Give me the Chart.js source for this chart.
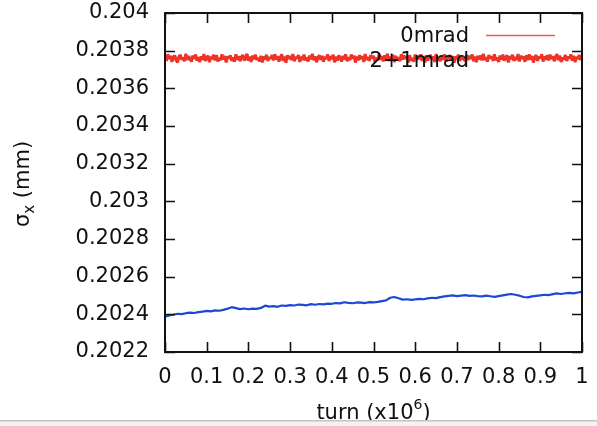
<!DOCTYPE html>
<html>
<head>
<meta charset="utf-8">
<script src="https://cdn.jsdelivr.net/npm/chart.js@4/dist/chart.umd.min.js"></script>
<style>
  html, body { margin: 0; padding: 0; background: #fff; }
  #sigma { display: block; }
</style>
</head>
<body>
<canvas id="sigma" width="597" height="426"></canvas>
<script>
'use strict';

// sigma_x over 1e6 turns, 0mrad (red) and 2+1mrad (blue)
const redSigma = [
    0.203769, 0.203746, 0.203781, 0.203757, 0.203772, 0.203741, 0.203766, 0.203775, 0.203749, 0.203738,
    0.203768, 0.203777, 0.203753, 0.203762, 0.203744, 0.203783, 0.203751, 0.203771, 0.203755, 0.203742,
    0.203774, 0.203758, 0.203779, 0.203747, 0.203765, 0.203740, 0.203770, 0.203752, 0.203782, 0.203745,
    0.203763, 0.203773, 0.203739, 0.203767, 0.203756, 0.203778, 0.203748, 0.203776, 0.203743, 0.203761,
    0.203750, 0.203780, 0.203754, 0.203772, 0.203737, 0.203769, 0.203759, 0.203775, 0.203746, 0.203764,
    0.203741, 0.203781, 0.203752, 0.203771, 0.203744, 0.203766, 0.203777, 0.203749, 0.203757, 0.203784,
    0.203747, 0.203768, 0.203740, 0.203774, 0.203755, 0.203779, 0.203751, 0.203762, 0.203743, 0.203773,
    0.203738, 0.203770, 0.203754, 0.203778, 0.203745, 0.203765, 0.203758, 0.203776, 0.203748, 0.203781,
    0.203753, 0.203771, 0.203742, 0.203763, 0.203780, 0.203746, 0.203769, 0.203736, 0.203775, 0.203756,
    0.203772, 0.203750, 0.203782, 0.203744, 0.203766, 0.203759, 0.203777, 0.203740, 0.203768, 0.203751,
    0.203779, 0.203748, 0.203764, 0.203743, 0.203774, 0.203754, 0.203783, 0.203749, 0.203770, 0.203739,
    0.203761, 0.203776, 0.203752, 0.203773, 0.203741, 0.203767, 0.203757, 0.203780, 0.203745, 0.203771,
    0.203755, 0.203778, 0.203738, 0.203769, 0.203747, 0.203775, 0.203762, 0.203742, 0.203772, 0.203753,
    0.203781, 0.203744, 0.203765, 0.203750, 0.203779, 0.203758, 0.203774, 0.203737, 0.203768, 0.203749,
    0.203776, 0.203756, 0.203770, 0.203740, 0.203782, 0.203751, 0.203766, 0.203746, 0.203777, 0.203759,
    0.203773, 0.203741, 0.203763, 0.203748, 0.203780, 0.203752, 0.203771, 0.203743, 0.203775, 0.203754,
    0.203784, 0.203745, 0.203767, 0.203757, 0.203778, 0.203739, 0.203772, 0.203750, 0.203765, 0.203744,
    0.203781, 0.203753, 0.203774, 0.203758, 0.203769, 0.203738, 0.203776, 0.203747, 0.203761, 0.203742,
    0.203779, 0.203751, 0.203773, 0.203755, 0.203780, 0.203746, 0.203768, 0.203737, 0.203775, 0.203749,
    0.203764, 0.203777, 0.203754, 0.203770, 0.203740, 0.203782, 0.203748, 0.203763, 0.203744, 0.203772,
    0.203752, 0.203781, 0.203743, 0.203766, 0.203759, 0.203776, 0.203747, 0.203771, 0.203736, 0.203769,
    0.203756, 0.203779, 0.203745, 0.203774, 0.203753, 0.203762, 0.203741, 0.203778, 0.203750, 0.203773,
    0.203757, 0.203780, 0.203744, 0.203768, 0.203739, 0.203772, 0.203754, 0.203775, 0.203748, 0.203783,
    0.203751, 0.203765, 0.203742, 0.203777, 0.203758, 0.203770, 0.203746, 0.203781, 0.203749, 0.203764,
    0.203740, 0.203774, 0.203753, 0.203779, 0.203747, 0.203761, 0.203776, 0.203738, 0.203771, 0.203755,
    0.203778, 0.203745, 0.203767, 0.203751, 0.203782, 0.203743, 0.203773, 0.203757, 0.203769, 0.203741,
    0.203775, 0.203750, 0.203780, 0.203754, 0.203772, 0.203737, 0.203764, 0.203777, 0.203746, 0.203768,
    0.203759, 0.203781, 0.203742, 0.203770, 0.203752, 0.203776, 0.203748, 0.203779, 0.203756, 0.203771,
    0.203744, 0.203766, 0.203782, 0.203749, 0.203774, 0.203740, 0.203763, 0.203753, 0.203778, 0.203745,
    0.203769, 0.203758, 0.203780, 0.203747, 0.203772, 0.203739, 0.203767, 0.203755, 0.203777, 0.203751,
    0.203770
];

const blueSigma = [
    0.202388, 0.202394, 0.202398, 0.202403, 0.202401, 0.202406, 0.202409, 0.202407, 0.202412, 0.202414, 0.202418,
    0.202416, 0.202421, 0.202419, 0.202424, 0.202430, 0.202438, 0.202433, 0.202428, 0.202431, 0.202427,
    0.202430, 0.202429, 0.202434, 0.202446, 0.202441, 0.202444, 0.202440, 0.202447, 0.202445, 0.202449,
    0.202447, 0.202452, 0.202450, 0.202448, 0.202454, 0.202451, 0.202455, 0.202453, 0.202457, 0.202456,
    0.202460, 0.202458, 0.202464, 0.202461, 0.202459, 0.202463, 0.202462, 0.202460, 0.202465, 0.202463,
    0.202466, 0.202470, 0.202474, 0.202488, 0.202492, 0.202485, 0.202478, 0.202480, 0.202477, 0.202479,
    0.202482, 0.202480, 0.202485, 0.202488, 0.202486, 0.202491, 0.202495, 0.202498, 0.202501, 0.202497,
    0.202499, 0.202502, 0.202498, 0.202500, 0.202497, 0.202495, 0.202499, 0.202496, 0.202493, 0.202497,
    0.202501, 0.202505, 0.202508, 0.202504, 0.202499, 0.202492, 0.202490, 0.202495, 0.202498, 0.202501,
    0.202504, 0.202502, 0.202507, 0.202511, 0.202508, 0.202512, 0.202514, 0.202511, 0.202516, 0.202519
];

const seriesNames = ['0mrad', '2+1mrad'];
const seriesColors = ['rgb(238, 52, 40)', 'rgb(28, 72, 212)'];
const turnTicks = [0, 0.1, 0.2, 0.3, 0.4, 0.5, 0.6, 0.7, 0.8, 0.9, 1];
const sigmaTicks = [0.2022, 0.2024, 0.2026, 0.2028, 0.203, 0.2032, 0.2034, 0.2036, 0.2038, 0.204];

const FONT = "'DejaVu Sans', sans-serif";
const FONT_SIZE = 21;

// sampled evenly over the run, 0 .. 1 (x1e6 turns)
function toPoints(values) {
    return values.map((v, i) => ({ x: i / (values.length - 1), y: v }));
}

// gnuplot style frame: box, inward ticks mirrored on all sides, legend, axis titles
const gnuplotFrame = {
    id: 'gnuplotFrame',
    afterDatasetsDraw(chart) {
        const ctx = chart.ctx;
        const area = chart.chartArea;
        const xs = chart.scales.x;
        const ys = chart.scales.y;
        const tick = 10;

        ctx.save();
        ctx.strokeStyle = '#111';
        ctx.lineWidth = 1.6;
        ctx.beginPath();
        turnTicks.forEach((t) => {
            const px = Math.round(xs.getPixelForValue(t)) + 0.5;
            ctx.moveTo(px, area.bottom);
            ctx.lineTo(px, area.bottom - tick);
            ctx.moveTo(px, area.top);
            ctx.lineTo(px, area.top + tick);
        });
        sigmaTicks.forEach((s) => {
            const py = Math.round(ys.getPixelForValue(s)) + 0.5;
            ctx.moveTo(area.left, py);
            ctx.lineTo(area.left + tick, py);
            ctx.moveTo(area.right, py);
            ctx.lineTo(area.right - tick, py);
        });
        ctx.stroke();

        ctx.lineWidth = 2;
        ctx.strokeRect(area.left, area.top, area.right - area.left, area.bottom - area.top);

        // legend (top right, text right aligned, sample line after it)
        ctx.font = FONT_SIZE + 'px ' + FONT;
        ctx.fillStyle = '#111';
        ctx.textAlign = 'right';
        ctx.textBaseline = 'middle';
        ctx.fillText(seriesNames[0], 469, 37);
        ctx.fillText(seriesNames[1], 469, 62);
        ctx.strokeStyle = 'rgb(236, 90, 80)';
        ctx.lineWidth = 1.5;
        ctx.beginPath();
        ctx.moveTo(486, 35.5);
        ctx.lineTo(555, 35.5);
        ctx.stroke();

        // x title: turn (x10^6)
        const cx = (area.left + area.right) / 2;
        const base = 419;
        ctx.textAlign = 'left';
        ctx.textBaseline = 'alphabetic';
        ctx.font = FONT_SIZE + 'px ' + FONT;
        const mainText = 'turn (x10';
        const supText = '6';
        const closeText = ')';
        const w1 = ctx.measureText(mainText).width;
        const w3 = ctx.measureText(closeText).width;
        ctx.font = '14px ' + FONT;
        const w2 = ctx.measureText(supText).width;
        const x0 = cx - (w1 + w2 + w3) / 2;
        ctx.font = FONT_SIZE + 'px ' + FONT;
        ctx.fillText(mainText, x0, base);
        ctx.font = '14px ' + FONT;
        ctx.fillText(supText, x0 + w1, base - 10);
        ctx.font = FONT_SIZE + 'px ' + FONT;
        ctx.fillText(closeText, x0 + w1 + w2, base);

        // bottom strip
        ctx.fillStyle = '#f3f3f3';
        ctx.fillRect(0, 421, chart.width, 5);
        ctx.fillStyle = '#c4c4c4';
        ctx.fillRect(0, 420, chart.width, 1.5);

        // y title: sigma_x (mm), rotated
        ctx.translate(29, 184);
        ctx.rotate(-Math.PI / 2);
        ctx.fillStyle = '#111';
        ctx.font = FONT_SIZE + 'px ' + FONT;
        const sig = 'σ';
        const sub = 'x';
        const unit = ' (mm)';
        const ws = ctx.measureText(sig).width;
        const wu = ctx.measureText(unit).width;
        ctx.font = '15px ' + FONT;
        const wx = ctx.measureText(sub).width;
        const y0 = -(ws + wx + wu) / 2;
        ctx.font = FONT_SIZE + 'px ' + FONT;
        ctx.fillText(sig, y0, 0);
        ctx.font = '15px ' + FONT;
        ctx.fillText(sub, y0 + ws, 5);
        ctx.font = FONT_SIZE + 'px ' + FONT;
        ctx.fillText(unit, y0 + ws + wx, 0);
        ctx.restore();
    },
};

const chart = new Chart(document.getElementById('sigma'), {
    type: 'line',
    data: {
        datasets: [
            {
                label: seriesNames[0],
                data: toPoints(redSigma),
                borderColor: seriesColors[0],
                borderWidth: 3,
                borderJoinStyle: 'bevel',
                pointRadius: 0,
                tension: 0,
            },
            {
                label: seriesNames[1],
                data: toPoints(blueSigma),
                borderColor: seriesColors[1],
                borderWidth: 2.2,
                borderJoinStyle: 'round',
                pointRadius: 0,
                tension: 0,
            },
        ],
    },
    options: {
        responsive: false,
        animation: false,
        events: [],
        layout: {
            padding: { top: 13, right: 15, left: 0, bottom: 0 },
        },
        plugins: {
            legend: { display: false },
            tooltip: { enabled: false },
        },
        scales: {
            x: {
                type: 'linear',
                min: 0,
                max: 1,
                grid: { display: false, drawTicks: false },
                border: { display: false },
                afterBuildTicks: (scale) => {
                    scale.ticks = turnTicks.map((v) => ({ value: v }));
                },
                afterFit: (scale) => {
                    scale.height = 74;
                    scale.paddingLeft = 0;
                    scale.paddingRight = 0;
                },
                ticks: {
                    autoSkip: false,
                    maxRotation: 0,
                    padding: 13,
                    color: '#111',
                    font: { family: FONT, size: FONT_SIZE },
                    callback: (v) => String(Number(v.toFixed(1))),
                },
            },
            y: {
                type: 'linear',
                min: 0.2022,
                max: 0.204,
                grid: { display: false, drawTicks: false },
                border: { display: false },
                afterBuildTicks: (scale) => {
                    scale.ticks = sigmaTicks.map((v) => ({ value: v }));
                },
                afterFit: (scale) => {
                    scale.width = 165;
                    scale.paddingTop = 0;
                    scale.paddingBottom = 0;
                },
                ticks: {
                    padding: 16,
                    color: '#111',
                    font: { family: FONT, size: FONT_SIZE },
                    callback: (v) => String(Number(v.toFixed(4))),
                },
            },
        },
    },
    plugins: [gnuplotFrame],
});
</script>
</body>
</html>
